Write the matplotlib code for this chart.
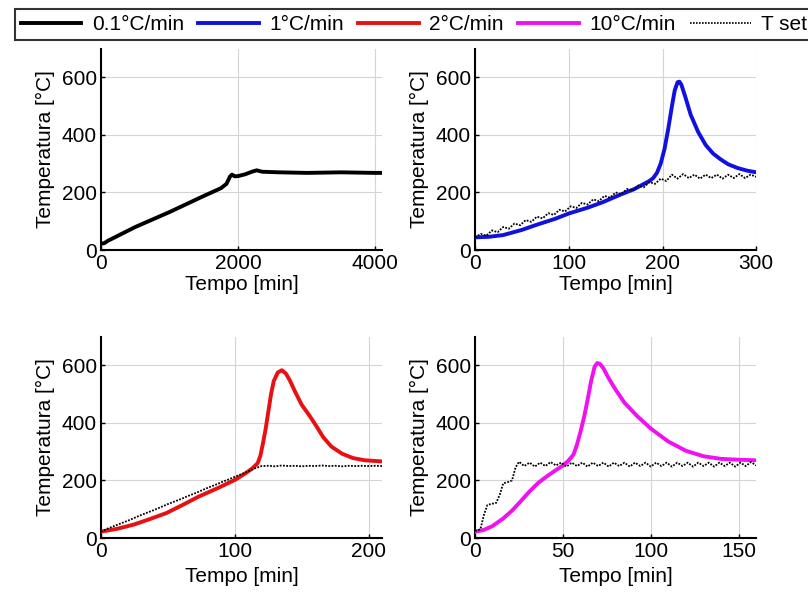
import matplotlib
matplotlib.use("Agg")
import matplotlib.pyplot as plt
from matplotlib.lines import Line2D

plt.rcParams['font.family'] = ['Liberation Sans', 'DejaVu Sans']

# 0.1 °C/min test
t_01 = [0, 50, 100, 200, 500, 1000, 1500, 1750, 1830, 1880, 1910, 1950, 2000, 2100,
        2200, 2270, 2350, 2600, 3000, 3500, 4000, 4100]
T_01 = [22, 24, 32, 44, 80, 132, 188, 215, 230, 255, 262, 256, 257, 263,
        272, 277, 272, 270, 268, 270, 268, 268]

# 1 °C/min test
t_1 = [0, 15, 30, 50, 65, 85, 100, 120, 136, 154, 170, 186, 190, 194, 198, 202, 206,
       210, 213, 216, 218, 220, 224, 230, 238, 246, 254, 262, 270, 280, 290, 300]
T_1 = [44, 46, 52, 70, 87, 108, 127, 147, 166, 191, 212, 240, 250, 268, 300, 350, 420,
       500, 555, 583, 585, 575, 535, 470, 410, 365, 335, 315, 298, 285, 276, 270]
tset_1_t = [0, 6, 12, 18, 24, 30, 36, 42, 48, 54, 60, 66, 72, 78, 84, 90, 96, 102, 108,
            114, 120, 126, 132, 138, 144, 150, 156, 162, 168, 174, 180, 186, 192, 198,
            204, 210, 216, 222, 228, 234, 240, 246, 252, 258, 264, 270, 276, 282, 288,
            294, 300]
tset_1 = [44, 56, 50, 68, 62, 80, 74, 92, 86, 104, 98, 116, 110, 128, 122, 140, 134, 152,
          146, 164, 158, 176, 170, 188, 182, 200, 194, 212, 206, 224, 218, 236, 230, 248,
          240, 262, 248, 264, 250, 262, 248, 262, 250, 262, 248, 262, 250, 264, 250,
          262, 254]

# 2 °C/min test
t_2 = [0, 12, 24, 36, 49, 61, 73, 87, 100, 108, 113, 117, 119, 121, 123, 125, 127, 129,
       132, 135, 138, 141, 145, 150, 155, 160, 166, 172, 180, 188, 197, 210]
T_2 = [22, 32, 46, 65, 87, 115, 144, 173, 202, 225, 242, 260, 285, 330, 380, 440, 500, 545,
       575, 583, 572, 548, 508, 462, 430, 395, 350, 318, 293, 278, 270, 266]
tset_2_t = [0, 5, 10, 15, 20, 25, 30, 35, 40, 45, 50, 55, 60, 65, 70, 75, 80, 85, 90, 95,
            100, 105, 110, 115, 120, 125, 130, 135, 140, 145, 150, 155, 160, 165, 170,
            175, 180, 185, 190, 195, 200, 205, 210]
tset_2 = [22, 33, 42, 51, 60, 70, 80, 89, 98, 108, 118, 127, 136, 146, 155, 165, 175, 184,
          194, 203, 213, 222, 232, 242, 250, 251, 249, 252, 250, 251, 249, 251, 250, 252,
          250, 251, 249, 251, 250, 251, 250, 251, 250]

# 10 °C/min test
t_10 = [0, 5, 10, 16, 21, 26, 31, 36, 41, 46, 50, 53, 56, 58, 60, 62, 64, 66, 68, 69.5,
        71, 73, 76, 80, 85, 92, 100, 110, 120, 130, 140, 150, 160]
T_10 = [22, 28, 42, 68, 95, 128, 162, 192, 215, 236, 252, 268, 290, 325, 370, 420, 480,
        545, 595, 608, 605, 590, 555, 515, 470, 425, 380, 335, 303, 284, 275, 272, 270]
tset_10_t = [0, 3, 5, 7, 9, 12, 14, 16, 19, 21, 23, 25, 28, 31, 34, 37, 40, 43, 46, 49,
             52, 55, 58, 61, 64, 67, 70, 73, 76, 79, 82, 85, 88, 91, 94, 97, 100, 103,
             106, 109, 112, 115, 118, 121, 124, 127, 130, 133, 136, 139, 142, 145, 148,
             151, 154, 157, 160]
tset_10 = [25, 30, 80, 115, 118, 122, 150, 190, 195, 200, 245, 265, 250, 262, 248, 262,
           250, 264, 252, 262, 248, 262, 250, 262, 248, 262, 250, 262, 248, 262, 250, 262,
           248, 262, 250, 262, 248, 262, 250, 262, 248, 262, 250, 262, 248, 262, 250, 262,
           248, 262, 250, 262, 248, 262, 250, 264, 252]

labels = ['0.1°C/min', '1°C/min', '2°C/min', '10°C/min', 'T set']
colors = ['black', '#1010e0', '#e81010', '#f010f0']

fig = plt.figure(figsize=(8.08, 5.96), dpi=100)
lefts = [0.125, 0.588]
bottoms = [0.5805, 0.0973]
w, h = 0.348, 0.338

panels = [
    (t_01, T_01, None, None, colors[0], 4100, [0, 2000, 4000]),
    (t_1, T_1, tset_1_t, tset_1, colors[1], 300, [0, 100, 200, 300]),
    (t_2, T_2, tset_2_t, tset_2, colors[2], 210, [0, 100, 200]),
    (t_10, T_10, tset_10_t, tset_10, colors[3], 160, [0, 50, 100, 150]),
]

for i, (tx, ty, sx, sy, c, xmax, xt) in enumerate(panels):
    ax = fig.add_axes([lefts[i % 2], bottoms[i // 2], w, h])
    if sx is not None:
        ax.plot(sx, sy, color='black', lw=1.3, ls=(0, (1, 0.8)), zorder=4)
    ax.plot(tx, ty, color=c, lw=2.8, zorder=3, solid_capstyle='round')
    ax.set_xlim(0, xmax)
    ax.set_ylim(0, 700)
    ax.set_xticks(xt)
    ax.set_yticks([0, 200, 400, 600])
    ax.grid(True, color='#d4d4d4', lw=0.8)
    ax.set_axisbelow(True)
    for s in ['top', 'right']:
        ax.spines[s].set_visible(False)
    for s in ['left', 'bottom']:
        ax.spines[s].set_linewidth(1.5)
    ax.tick_params(direction='in', length=3, width=1, labelsize=15, pad=3)
    ax.set_xlabel('Tempo [min]', fontsize=15, labelpad=1 if i < 2 else 4)
    ax.set_ylabel('Temperatura [°C]', fontsize=15, labelpad=5)

handles = [Line2D([], [], color=c, lw=2.8) for c in colors]
handles.append(Line2D([], [], color='black', lw=1.2, ls=(0, (1, 0.8))))
leg = fig.legend(handles, labels, loc='upper left', bbox_to_anchor=(0.018, 0.985),
                 ncol=5, fontsize=15, handlelength=2.9, handletextpad=0.5,
                 columnspacing=0.7, frameon=True, fancybox=False, borderpad=0.3,
                 borderaxespad=0)
leg.get_frame().set_edgecolor('black')
leg.get_frame().set_linewidth(1.5)

fig.savefig('out.png', dpi=100)
